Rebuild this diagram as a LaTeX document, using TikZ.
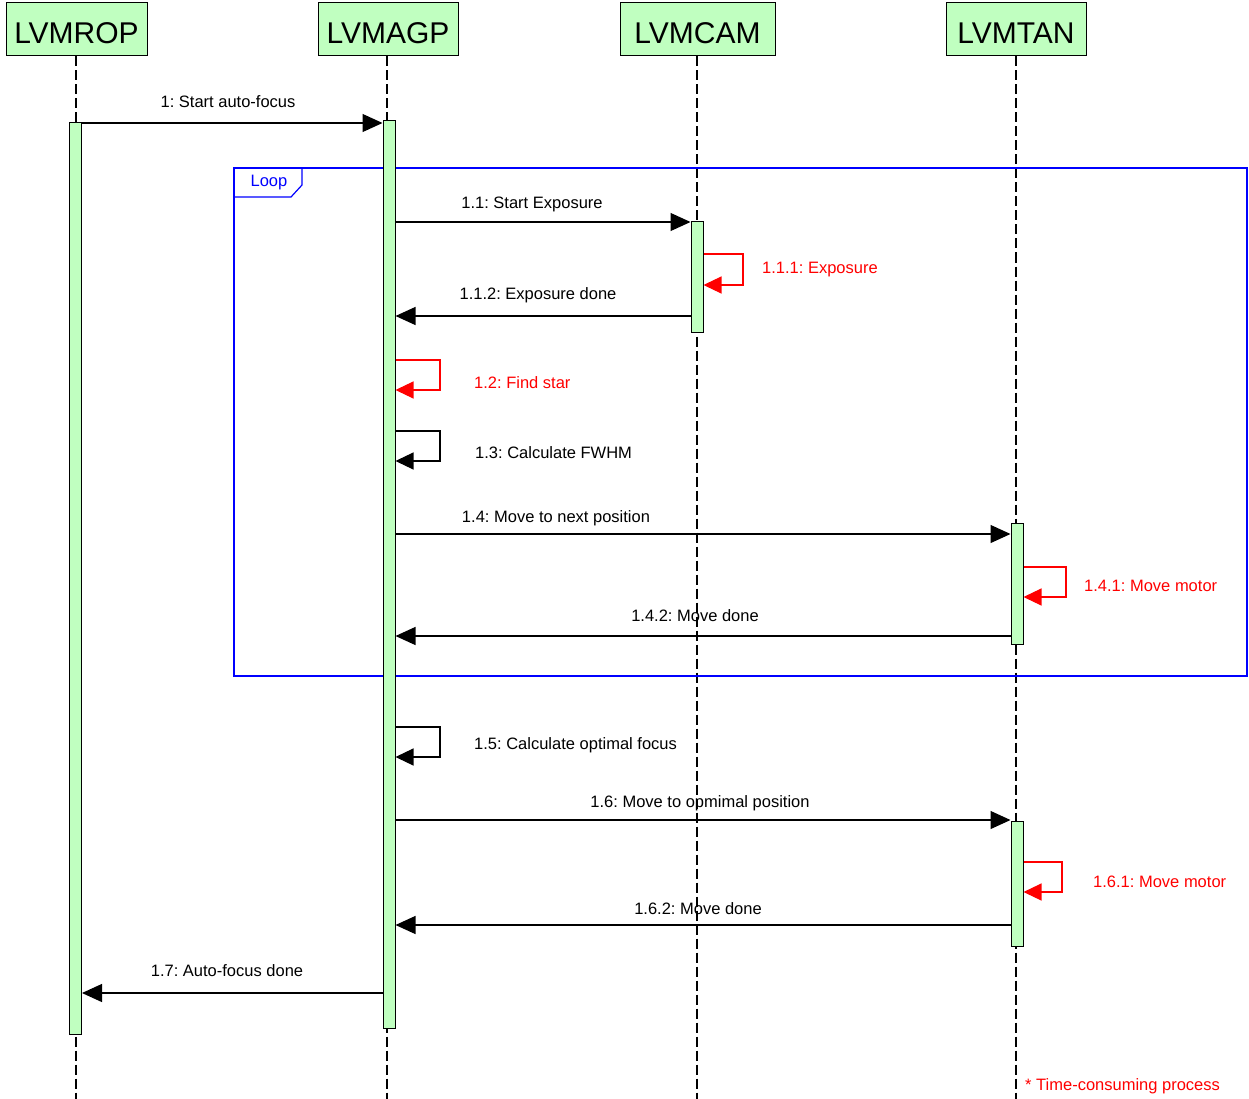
\documentclass[tikz,border=0pt]{standalone}
\usepackage{fontspec}
\setmainfont{Liberation Sans}
\usetikzlibrary{arrows.meta}
\definecolor{actfill}{RGB}{192,255,192}
\definecolor{msgred}{RGB}{255,0,0}
\definecolor{framblue}{RGB}{0,0,255}
\frenchspacing
\begin{document}
\begin{tikzpicture}[x=1pt,y=-1pt,
  header/.style={draw=black, fill=actfill, line width=1pt, minimum height=53pt,
    inner sep=0pt, text height=28.5pt, text depth=0pt,
    font=\fontsize{30}{34}\selectfont},
  lifeline/.style={line width=1.2pt, dash pattern=on 10pt off 4pt},
  activation/.style={draw=black, fill=actfill, line width=1pt, minimum width=12pt,
    inner sep=0pt},
  msg/.style={line width=1.2pt, -{Triangle[length=20pt,width=18pt]}},
  selfmsg/.style={line width=1.2pt, -{Triangle[length=18pt,width=17pt]}},
  lbl/.style={font=\fontsize{16.5}{20}\selectfont\frenchspacing, inner sep=0pt},
]
\useasboundingbox (0,0) rectangle (1249,1099);

% participants
\node[header, minimum width=141pt] (rop) at (76.5,29.5) {LVMROP};
\node[header, minimum width=140pt] (agp) at (388,29.5) {LVMAGP};
\node[header, minimum width=155pt] (cam) at (697.5,29.5) {LVMCAM};
\node[header, minimum width=140pt] (tan) at (1016,29.5) {LVMTAN};

% lifelines
\coordinate (ropEnd) at (76,1099);
\coordinate (agpEnd) at (387,1099);
\coordinate (camEnd) at (697,1099);
\coordinate (tanEnd) at (1016,1099);
\draw[lifeline] (rop.south -| ropEnd) -- (ropEnd);
\draw[lifeline] (agp.south -| agpEnd) -- (agpEnd);
\draw[lifeline] (cam.south -| camEnd) -- (camEnd);
\draw[lifeline] (tan.south -| tanEnd) -- (tanEnd);

% loop frame
\draw[framblue, line width=1.2pt] (234,168) rectangle (1247,676);
\draw[framblue, line width=1.2pt] (234,197) -- (291,197) -- (302,185) -- (302,168);
\node[lbl, text=framblue] (looplbl) at (269,183) {Loop};

% activation bars
\node[activation, minimum height=911pt] (ropA) at (75.5,578.5) {};
\node[activation, minimum height=907pt] (agpA) at (389,574.5) {};
\node[activation, minimum height=110pt] (camA) at (697,277) {};
\node[activation, minimum height=121pt] (tanA) at (1017,583.5) {};
\node[activation, minimum height=125pt] (tanB) at (1017,883.5) {};

% 1
\draw[msg] (ropA.east |- 0,123) -- (agpA.west |- 0,123);
\node[lbl] (m1) at (228,101.5) {1: Start auto-focus};
% 1.1
\draw[msg] (agpA.east |- 0,222) -- (camA.west |- 0,222);
\node[lbl] (m11) at (532,204.5) {1.1: Start Exposure};
% 1.1.1
\draw[selfmsg, msgred] (camA.east |- 0,254) -- (743,254) -- (743,285) -- (camA.east |- 0,285);
\node[lbl, text=msgred, anchor=west] (m111) at (762,269.5) {1.1.1: Exposure};
% 1.1.2
\draw[msg] (camA.west |- 0,316) -- (agpA.east |- 0,316);
\node[lbl] (m112) at (538,295.5) {1.1.2: Exposure done};
% 1.2
\draw[selfmsg, msgred] (agpA.east |- 0,360) -- (440,360) -- (440,390) -- (agpA.east |- 0,390);
\node[lbl, text=msgred, anchor=west] (m12) at (474,382.5) {1.2: Find star};
% 1.3
\draw[selfmsg] (agpA.east |- 0,431) -- (440,431) -- (440,461) -- (agpA.east |- 0,461);
\node[lbl, anchor=west] (m13) at (475,452.5) {1.3: Calculate FWHM};
% 1.4
\draw[msg] (agpA.east |- 0,534) -- (tanA.west |- 0,534);
\node[lbl] (m14) at (556,518.5) {1.4: Move to next position};
% 1.4.1
\draw[selfmsg, msgred] (tanA.east |- 0,567) -- (1066,567) -- (1066,597) -- (tanA.east |- 0,597);
\node[lbl, text=msgred, anchor=west] (m141) at (1084,585.5) {1.4.1: Move motor};
% 1.4.2
\draw[msg] (tanA.west |- 0,636) -- (agpA.east |- 0,636);
\node[lbl] (m142) at (695,615.5) {1.4.2: Move done};
% 1.5
\draw[selfmsg] (agpA.east |- 0,727) -- (440,727) -- (440,757) -- (agpA.east |- 0,757);
\node[lbl, anchor=west] (m15) at (474,745.5) {1.5: Calculate optimal focus};
% 1.6
\draw[msg] (agpA.east |- 0,820) -- (tanB.west |- 0,820);
\node[lbl] (m16) at (700,803.5) {1.6: Move to opmimal position};
% 1.6.1
\draw[selfmsg, msgred] (tanB.east |- 0,862) -- (1062,862) -- (1062,892) -- (tanB.east |- 0,892);
\node[lbl, text=msgred, anchor=west] (m161) at (1093,881.5) {1.6.1: Move motor};
% 1.6.2
\draw[msg] (tanB.west |- 0,925) -- (agpA.east |- 0,925);
\node[lbl] (m162) at (698,908.5) {1.6.2: Move done};
% 1.7
\draw[msg] (agpA.west |- 0,993) -- (ropA.east |- 0,993);
\node[lbl] (m17) at (227,970.5) {1.7: Auto-focus done};

% note
\node[lbl, text=msgred, anchor=west] (note) at (1025,1086.5) {* Time-consuming process};
\end{tikzpicture}
\end{document}
